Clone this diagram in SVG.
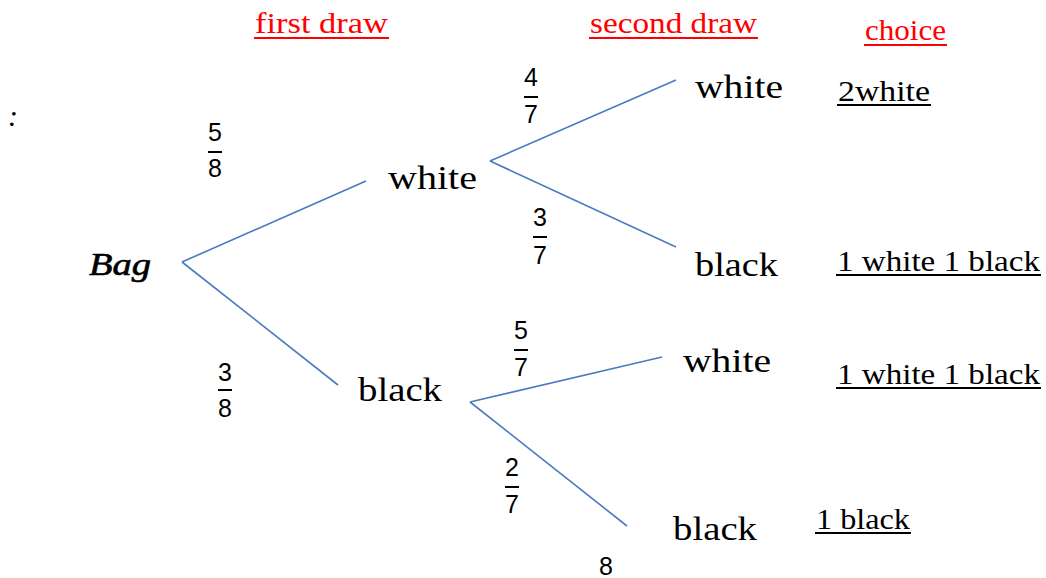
<svg xmlns="http://www.w3.org/2000/svg" width="1046" height="578" viewBox="0 0 1046 578">
<style>
text.w{font-size:33px}
text.h{font-size:30px;fill:#FF0000}
text.c{font-size:29px}
text.f{font-size:25px;text-anchor:middle}
.ul{stroke:#000;stroke-width:2}
.ur{stroke:#FF0000;stroke-width:2.2}
.bar{stroke:#000;stroke-width:2}
.conn{stroke:#4A7BC0;stroke-width:1.6;fill:none}
</style>
<rect width="1046" height="578" fill="#fff"/>
<g id="connectors">
<line class="conn" x1="182" y1="262" x2="366" y2="181"/>
<line class="conn" x1="182" y1="262" x2="338" y2="385"/>
<line class="conn" x1="490" y1="161" x2="676" y2="80"/>
<line class="conn" x1="490" y1="161" x2="676" y2="247"/>
<line class="conn" x1="470" y1="402" x2="662" y2="357"/>
<line class="conn" x1="470" y1="402" x2="627" y2="526"/>
</g>
<g font-family="Liberation Serif, serif" fill="#000">
<g id="headers">
<text class="h" x="255" y="33" textLength="133" lengthAdjust="spacingAndGlyphs">first draw</text>
<line class="ur" x1="254" y1="38" x2="389" y2="38"/>
<text class="h" x="590" y="33" textLength="167" lengthAdjust="spacingAndGlyphs">second draw</text>
<line class="ur" x1="589" y1="38" x2="758" y2="38"/>
<text class="h" x="865" y="40" textLength="81" lengthAdjust="spacingAndGlyphs">choice</text>
<line class="ur" x1="864" y1="45" x2="947" y2="45"/>
</g>
<g id="colon"><text x="8" y="126" font-size="30" font-style="italic">:</text></g>
<g id="bag"><text x="89" y="275" font-size="31" font-style="italic" stroke="#000" stroke-width="0.6" textLength="62" lengthAdjust="spacingAndGlyphs">Bag</text></g>
<g id="n-white1"><text class="w" x="388" y="189" textLength="89" lengthAdjust="spacingAndGlyphs">white</text></g>
<g id="n-black1"><text class="w" x="358" y="401" textLength="84" lengthAdjust="spacingAndGlyphs">black</text></g>
<g id="n-ww"><text class="w" x="695" y="98" textLength="88" lengthAdjust="spacingAndGlyphs">white</text></g>
<g id="n-wb"><text class="w" x="695" y="276" textLength="83" lengthAdjust="spacingAndGlyphs">black</text></g>
<g id="n-bw"><text class="w" x="683" y="372" textLength="88" lengthAdjust="spacingAndGlyphs">white</text></g>
<g id="n-bb"><text class="w" x="673" y="540" textLength="84" lengthAdjust="spacingAndGlyphs">black</text></g>
<g id="c1"><text class="c" x="838" y="101" textLength="92" lengthAdjust="spacingAndGlyphs">2white</text><line class="ul" x1="837" y1="105" x2="931" y2="105"/></g>
<g id="c2"><text class="c" x="837" y="271" textLength="203" lengthAdjust="spacingAndGlyphs">1 white 1 black</text><line class="ul" x1="836" y1="275" x2="1041" y2="275"/></g>
<g id="c3"><text class="c" x="837" y="384" textLength="203" lengthAdjust="spacingAndGlyphs">1 white 1 black</text><line class="ul" x1="836" y1="388" x2="1041" y2="388"/></g>
<g id="c4"><text class="c" x="816" y="529" textLength="94" lengthAdjust="spacingAndGlyphs">1 black</text><line class="ul" x1="815" y1="533" x2="911" y2="533"/></g>
</g>
<g font-family="Liberation Sans, sans-serif" fill="#000">
<g id="p58"><text class="f" x="215" y="141">5</text><line class="bar" x1="208" y1="152" x2="222" y2="152"/><text class="f" x="215" y="177">8</text></g>
<g id="p38"><text class="f" x="225" y="381">3</text><line class="bar" x1="218" y1="390" x2="232" y2="390"/><text class="f" x="225" y="417">8</text></g>
<g id="p47"><text class="f" x="531" y="86">4</text><line class="bar" x1="524" y1="97" x2="538" y2="97"/><text class="f" x="531" y="123">7</text></g>
<g id="p37"><text class="f" x="540" y="226">3</text><line class="bar" x1="533" y1="237" x2="547" y2="237"/><text class="f" x="540" y="264">7</text></g>
<g id="p57"><text class="f" x="521" y="339">5</text><line class="bar" x1="514" y1="350" x2="528" y2="350"/><text class="f" x="521" y="376">7</text></g>
<g id="p27"><text class="f" x="512" y="476">2</text><line class="bar" x1="505" y1="487" x2="519" y2="487"/><text class="f" x="512" y="513">7</text></g>
<g id="stray"><text class="f" x="606" y="575">8</text></g>
</g>
</svg>
